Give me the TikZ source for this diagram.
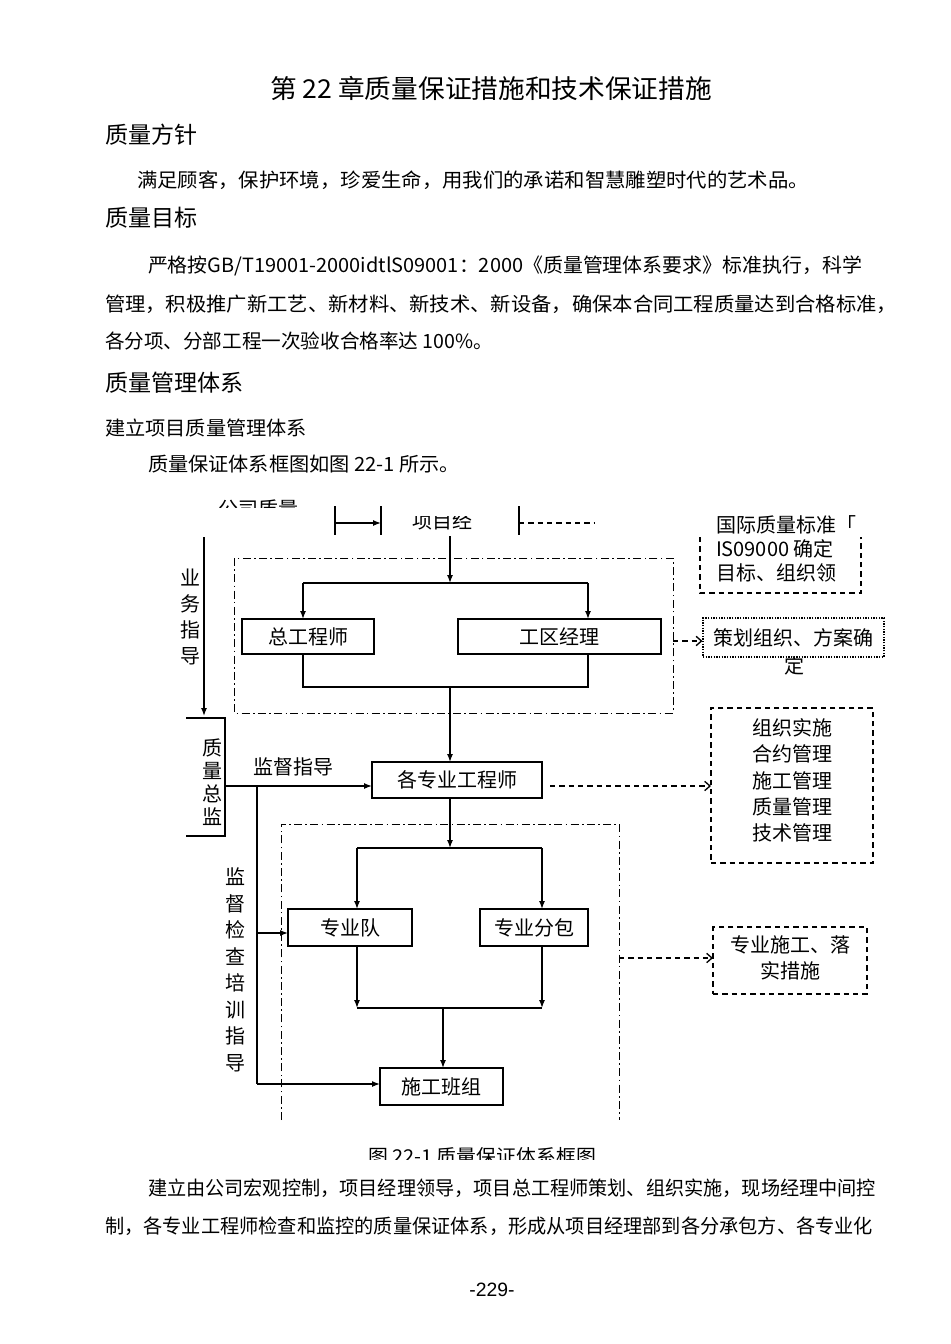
\documentclass[tikz,border=0pt]{standalone}
\usepackage{fontspec}
\setmainfont{Noto Sans CJK SC}
\newfontfamily\pgnum{Liberation Sans}
\usepackage{graphicx}
\usetikzlibrary{arrows.meta}
\newcommand\fitpx[2]{\resizebox{\dimexpr #1pt*3/4\relax}{\height}{#2}}
\newcommand\bfs{\fontsize{14.7pt}{18pt}\selectfont}
\newcommand\hfs{\fontsize{17.3pt}{20pt}\selectfont}
\newcommand\dfs{\fontsize{15pt}{19.5pt}\selectfont}
\begin{document}
\begin{tikzpicture}[x=0.75pt,y=-0.75pt,
  txt/.style={inner sep=0pt, outer sep=0pt},
  dl/.style={inner sep=0pt, outer sep=0pt, font=\dfs},
  box/.style={draw, line width=0.9pt, inner sep=0pt, outer sep=0pt, font=\dfs},
  ln/.style={line width=1pt},
  arr/.style={line width=1pt, -{Latex[length=6pt,width=4.5pt]}},
  dline/.style={line width=0.9pt, dash pattern=on 4pt off 3pt},
  darr/.style={line width=0.9pt, dash pattern=on 4pt off 3pt, -{Straight Barb[length=4pt,width=7pt,line width=1pt]}},
  dotbox/.style={draw, line width=0.8pt, dash pattern=on 1pt off 1pt, inner sep=0pt, font=\dfs},
  dd/.style={line width=0.7pt, dash pattern=on 6pt off 2.5pt on 1.2pt off 2.5pt},
  vt/.style={inner sep=0pt, align=center, font=\fontsize{15pt}{#1}\selectfont},
]
\fill[white] (0,0) rectangle (950,1344);
\useasboundingbox (0,0) rectangle (950,1344);

% ---------- page text ----------
\node[txt] (title) at (491,88) {\fitpx{442}{\fontsize{19.5pt}{22pt}\selectfont 第 22 章质量保证措施和技术保证措施}};
\node[txt, anchor=west] (h1) at (105,135) {\hfs 质量方针};
\node[txt, anchor=west] (p1) at (137,180) {\fitpx{672}{\bfs 满足顾客，保护环境，珍爱生命，用我们的承诺和智慧雕塑时代的艺术品。}};
\node[txt, anchor=west] (h2) at (105,218) {\hfs 质量目标};
\node[txt, anchor=west] (p2a) at (148,266) {\fitpx{714}{\bfs 严格按GB/T19001-2000idtlS09001：2000《质量管理体系要求》标准执行，科学}};
\node[txt, anchor=west] (p2b) at (105,304) {\fitpx{792}{\bfs 管理，积极推广新工艺、新材料、新技术、新设备，确保本合同工程质量达到合格标准，}};
\node[txt, anchor=west] (p2c) at (105,341) {\fitpx{388}{\bfs 各分项、分部工程一次验收合格率达 100\%。}};
\node[txt, anchor=west] (h3) at (105,383) {\hfs 质量管理体系};
\node[txt, anchor=west] (h4) at (105,428) {\fitpx{202}{\bfs 建立项目质量管理体系}};
\node[txt, anchor=west] (p3) at (148,464) {\fitpx{312}{\bfs 质量保证体系框图如图 22-1 所示。}};
\node[txt, anchor=west] (p4) at (148,1188) {\fitpx{728}{\bfs 建立由公司宏观控制，项目经理领导，项目总工程师策划、组织实施，现场经理中间控}};
\node[txt, anchor=west] (p5) at (105,1226) {\fitpx{768}{\bfs 制，各专业工程师检查和监控的质量保证体系，形成从项目经理部到各分承包方、各专业化}};
\node[txt] (pg) at (492,1290) {\pgnum\fontsize{14.5pt}{16pt}\selectfont -229-};

% ---------- clipped top fragments ----------
\begin{scope}
  \clip (200,470) rectangle (320,507);
  \node[dl] (gszl) at (258,509) {公司质量};
\end{scope}
\begin{scope}
  \clip (395,516) rectangle (495,531);
  \node[dl] (xmj) at (442,521) {项目经};
\end{scope}
\coordinate (t1a) at (335,506); \coordinate (t1b) at (335,535);
\coordinate (t2a) at (381,506); \coordinate (t2b) at (381,535);
\coordinate (t3a) at (519,506); \coordinate (t3b) at (519,535);
\draw[ln] (t1a) -- (t1b);
\draw[ln] (t2a) -- (t2b);
\draw[ln] (t3a) -- (t3b);
\coordinate (ta) at (335,523); \coordinate (tb) at (381,523);
\draw[arr] (ta) -- (tb);
\coordinate (tc) at (519,523); \coordinate (td) at (595,523);
\draw[dline] (tc) -- (td);

% ---------- dash-dot groups ----------
\draw[dd] (234,558) rectangle (673,713);
\draw[dd] (281,1120) -- (281,824) -- (619,824) -- (619,1120);

% ---------- boxes ----------
\node[box, minimum width=99pt, minimum height=26.25pt] (zgc) at (308,636.5) {总工程师};
\node[box, minimum width=152.25pt, minimum height=26.25pt] (gqj) at (559.5,636.5) {工区经理};
\node[box, line width=1.4pt, minimum width=127.5pt, minimum height=27pt] (gzy) at (457,780) {各专业工程师};
\node[box, minimum width=93pt, minimum height=27.75pt] (zyd) at (350,927.5) {专业队};
\node[box, minimum width=81pt, minimum height=27.75pt] (zyf) at (534,927.5) {专业分包};
\node[box, minimum width=92.25pt, minimum height=27.75pt] (sgb) at (441.5,1086.5) {施工班组};

% ---------- main connectors ----------
\coordinate (xm) at (450,536);
\coordinate (j1m) at (450,583);
\coordinate (j1l) at (303,583);
\coordinate (j1r) at (588,583);
\draw[arr] (xm) -- (j1m);
\draw[ln] (j1l) -- (j1r);
\draw[arr] (j1l) -- (j1l |- zgc.north);
\draw[arr] (j1r) -- (j1r |- gqj.north);
\coordinate (j2l) at (303,687);
\coordinate (j2r) at (588,687);
\coordinate (j2m) at (450,687);
\draw[ln] (j1l |- zgc.south) -- (j2l) -- (j2r) -- (j1r |- gqj.south);
\draw[arr] (j2m) -- (j2m |- gzy.north);
\coordinate (j3m) at (450,848);
\coordinate (j3l) at (357,848);
\coordinate (j3r) at (542,848);
\draw[arr] (j2m |- gzy.south) -- (j3m);
\draw[ln] (j3l) -- (j3r);
\draw[arr] (j3l) -- (j3l |- zyd.north);
\draw[arr] (j3r) -- (j3r |- zyf.north);
\coordinate (j4l) at (357,1008);
\coordinate (j4r) at (542,1008);
\coordinate (j4m) at (443,1008);
\draw[arr] (j3l |- zyd.south) -- (j4l);
\draw[arr] (j3r |- zyf.south) -- (j4r);
\draw[line width=1.6pt] (j4l) -- (j4r);
\draw[arr] (j4m) -- (j4m |- sgb.north);

% ---------- left side ----------
\coordinate (yw1) at (204,537);
\coordinate (yw2) at (204,716);
\draw[arr] (yw1) -- (yw2);
\node[vt=19.5pt] (ywzd) at (190,617) {业\\务\\指\\导};
\coordinate (qa) at (186,718); \coordinate (qb) at (225,718);
\coordinate (qc) at (225,836); \coordinate (qd) at (186,836);
\draw[ln] (qa) -- (qb) -- (qc) -- (qd);
\node[vt=17.25pt] (zlzj) at (212,782) {质\\量\\总\\监};
\coordinate (qm) at (225,786);
\draw[arr] (qm) -- (qm -| gzy.west);
\node[dl] (jdzd) at (293,767) {监督指导};
\coordinate (v1) at (257,786);
\coordinate (v2) at (257,1084);
\coordinate (v3) at (257,933);
\draw[ln] (v1) -- (v2);
\draw[arr] (v3) -- (v3 -| zyd.west);
\draw[arr] (v2) -- (v2 -| sgb.west);
\node[vt=19.9pt] (jdjc) at (235,970) {监\\督\\检\\查\\培\\训\\指\\导};

% ---------- right side ----------
\coordinate (iso1) at (700,537); \coordinate (iso2) at (700,593);
\coordinate (iso3) at (861,593); \coordinate (iso4) at (861,537);
\draw[dline] (iso1) -- (iso2) -- (iso3) -- (iso4);
\node[dl, anchor=west, align=left, font=\fontsize{15pt}{18.2pt}\selectfont] (iso) at (716,549) {国际质量标准「\\IS09000 确定\\目标、组织领};

\node[dotbox, minimum width=135.75pt, minimum height=29.25pt] (chzz) at (793.5,637.5) {策划组织、方案确};
\node[dl] (ding) at (794,666) {定};
\coordinate (r1e) at (673,641);
\draw[darr] (r1e) -- (r1e -| chzz.west);

\node[box, dline, draw, minimum width=121.5pt, minimum height=116.25pt] (zzss) at (792,785.5) {};
\node[vt=19.7pt] (zzsst) at (792,780.5) {组织实施\\合约管理\\施工管理\\质量管理\\技术管理};
\coordinate (g1) at (550,786);
\draw[darr] (g1) -- (g1 -| zzss.west);

\node[box, dline, draw, minimum width=115.5pt, minimum height=50.25pt] (zysg) at (790,960.5) {};
\node[vt=19.5pt] (zysgt) at (790,958) {专业施工、落\\实措施};
\coordinate (r2e) at (619,958);
\draw[darr] (r2e) -- (r2e -| zysg.west);

% ---------- clipped caption ----------
\begin{scope}
  \clip (350,1140) rectangle (620,1159);
  \node[txt] (cap) at (482,1156) {\fitpx{228}{\fontsize{14.3pt}{16pt}\selectfont 图 22-1 质量保证体系框图}};
\end{scope}
\end{tikzpicture}
\end{document}
